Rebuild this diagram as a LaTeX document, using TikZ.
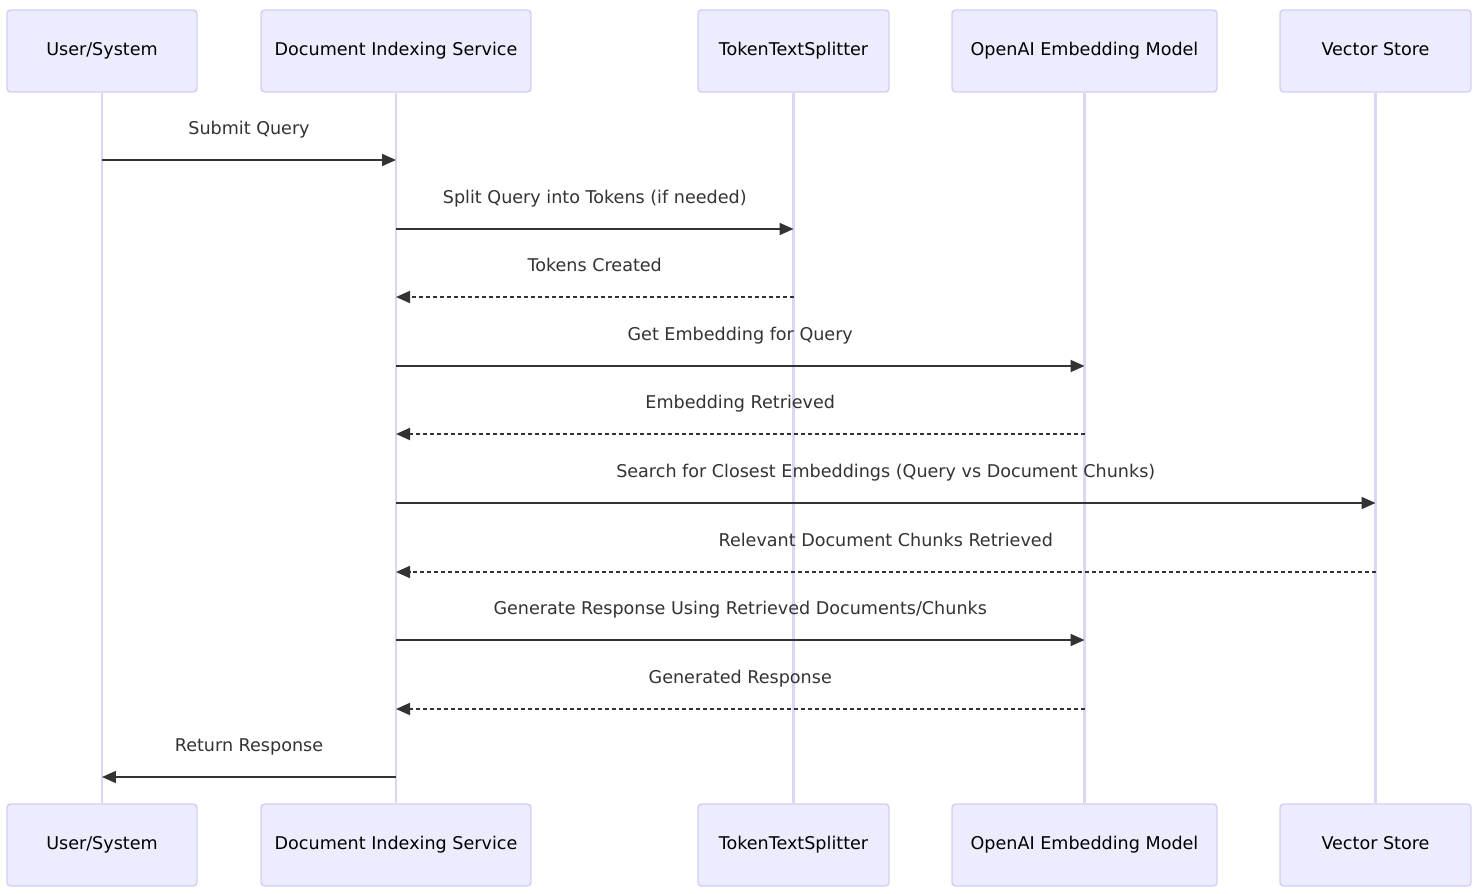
\documentclass[tikz,border=0pt]{standalone}
\usepackage{fontspec}
\setmainfont{DejaVu Sans}
\usetikzlibrary{arrows.meta}

\definecolor{actorfill}{HTML}{ECECFF}
\definecolor{actorline}{HTML}{D6CDF4}
\definecolor{lifecol}{HTML}{DDD5F6}
\definecolor{msgcol}{HTML}{333333}

\tikzset{
	actor/.style={draw=actorline, fill=actorfill, line width=0.8pt, rounded corners=2pt,
		minimum height=1.64cm, text height=0.75em, text depth=0.22em,
		font=\fontsize{10}{12}\selectfont},
	life/.style={draw=lifecol, line width=1.4pt},
	msg/.style={draw=msgcol, line width=1.1pt, -{Triangle[length=0.28cm, width=0.24cm]}},
	reply/.style={msg, dash pattern=on 0.07cm off 0.07cm},
	msglabel/.style={midway, yshift=0.6cm, text height=0.75em, text depth=0.22em,
		text=msgcol, font=\fontsize{10}{12}\selectfont}
}

\begin{document}
\begin{tikzpicture}[x=0.02cm, y=-0.02cm]
	\useasboundingbox[fill=white] (0,0) rectangle (1481,893);

	% actors, top row
	\node[actor, minimum width=3.8cm] (userT) at (102,51) {User/System};
	\node[actor, minimum width=5.4cm] (docT) at (396,51) {Document Indexing Service};
	\node[actor, minimum width=3.82cm] (splitT) at (793.5,51) {TokenTextSplitter};
	\node[actor, minimum width=5.3cm] (embedT) at (1084.5,51) {OpenAI Embedding Model};
	\node[actor, minimum width=3.82cm] (storeT) at (1375.5,51) {Vector Store};

	% actors, bottom row
	\node[actor, minimum width=3.8cm] (userB) at (102,845) {User/System};
	\node[actor, minimum width=5.4cm] (docB) at (396,845) {Document Indexing Service};
	\node[actor, minimum width=3.82cm] (splitB) at (793.5,845) {TokenTextSplitter};
	\node[actor, minimum width=5.3cm] (embedB) at (1084.5,845) {OpenAI Embedding Model};
	\node[actor, minimum width=3.82cm] (storeB) at (1375.5,845) {Vector Store};

	% lifelines
	\foreach \a in {user,doc,split,embed,store}{
		\draw[life] (\a T.south) -- (\a B.north);
	}

	% message rows
	\foreach \i/\y in {1/160,2/229,3/297,4/366,5/434,6/503,7/572,8/640,9/709,10/777}{
		\coordinate (r\i) at (0,\y);
	}

	% messages
	\draw[msg] (userT |- r1) -- node[msglabel]{Submit Query} (docT |- r1);
	\draw[msg] (docT |- r2) -- node[msglabel]{Split Query into Tokens (if needed)} (splitT |- r2);
	\draw[reply] (splitT |- r3) -- node[msglabel]{Tokens Created} (docT |- r3);
	\draw[msg] (docT |- r4) -- node[msglabel]{Get Embedding for Query} (embedT |- r4);
	\draw[reply] (embedT |- r5) -- node[msglabel]{Embedding Retrieved} (docT |- r5);
	\draw[msg] (docT |- r6) -- node[msglabel]{Search for Closest Embeddings (Query vs Document Chunks)} (storeT |- r6);
	\draw[reply] (storeT |- r7) -- node[msglabel]{Relevant Document Chunks Retrieved} (docT |- r7);
	\draw[msg] (docT |- r8) -- node[msglabel]{Generate Response Using Retrieved Documents/Chunks} (embedT |- r8);
	\draw[reply] (embedT |- r9) -- node[msglabel]{Generated Response} (docT |- r9);
	\draw[msg] (docT |- r10) -- node[msglabel]{Return Response} (userT |- r10);
\end{tikzpicture}
\end{document}
